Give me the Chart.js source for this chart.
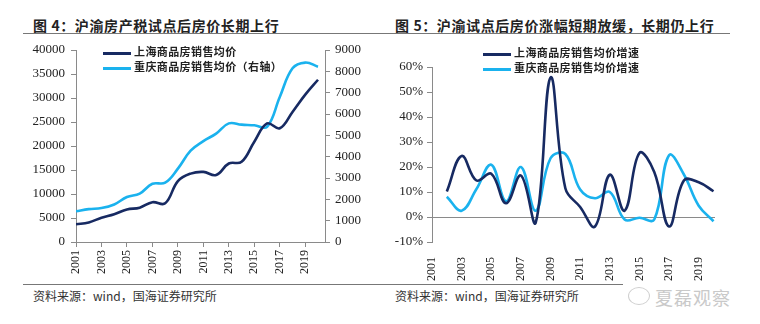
<!DOCTYPE html>
<html>
<head>
<meta charset="utf-8">
<script src="https://cdn.jsdelivr.net/npm/chart.js@4.4.0/dist/chart.umd.min.js"></script>
<style>
  body { margin: 0; background: #fff; width: 760px; height: 324px; position: relative; overflow: hidden;
         font-family: "Noto Sans CJK SC", sans-serif; }
  .box { position: absolute; top: 0; width: 380px; height: 282px; }
  .title { position: absolute; top: 15px; font-size: 14px; font-weight: bold; color: #222; letter-spacing: 0.6px; white-space: nowrap; }
  .rule { position: absolute; height: 1px; background: #777; }
  .foot { position: absolute; top: 287px; font-size: 12px; color: #333; white-space: nowrap; }
  .legend { position: absolute; font-size: 11px; font-weight: bold; color: #222; letter-spacing: 0.4px; }
  .legend div { height: 15px; line-height: 15px; white-space: nowrap; }
  .legend span { display: inline-block; width: 28px; height: 3px; vertical-align: middle; margin-right: 3px; }
  .mark { position: absolute; left: 655px; top: 284px; font-size: 18px; color: #c9c9c9; letter-spacing: 1px; }
  .bubble { position: absolute; left: 628px; top: 287px; width: 20px; height: 16px; border: 1.5px solid #cfcfcf; border-radius: 50%; }
</style>
</head>
<body>

<div class="title" style="left:33px">图 4：沪渝房产税试点后房价长期上行</div>
<div class="rule" style="left:23px; width:357px; top:33px"></div>
<div class="title" style="left:395px">图 5：沪渝试点后房价涨幅短期放缓，长期仍上行</div>
<div class="rule" style="left:380px; width:350px; top:33px"></div>

<div class="box" style="left:0"><canvas id="priceChart"></canvas></div>
<div class="box" style="left:380px"><canvas id="growthChart"></canvas></div>

<div class="legend" id="legend1" style="left:103px; top:44px"></div>
<div class="legend" id="legend2" style="left:483px; top:45px"></div>

<div class="rule" style="left:23px; width:357px; top:284px"></div>
<div class="rule" style="left:380px; width:243px; top:284px"></div>
<div class="foot" style="left:33px">资料来源：wind，国海证券研究所</div>
<div class="foot" style="left:395px">资料来源：wind，国海证券研究所</div>
<div class="bubble"></div>
<div class="mark">夏磊观察</div>

<script>
// data
const years = [2001, 2002, 2003, 2004, 2005, 2006, 2007, 2008, 2009, 2010,
               2011, 2012, 2013, 2014, 2015, 2016, 2017, 2018, 2019, 2020]
const growthYears = years.slice(1)
const xTickYears = [2001, 2003, 2005, 2007, 2009, 2011, 2013, 2015, 2017, 2019]

// 商品房销售均价 (元/平方米)
const shPrice = [3700, 4080, 5050, 5780, 6780, 7150, 8300, 8050, 12700, 14250,
                 14600, 13950, 16350, 16700, 20900, 24700, 23700, 27100, 30700, 33800]
const cqPrice = [1440, 1540, 1590, 1760, 2110, 2270, 2730, 2780, 3440, 4280,
                 4730, 5080, 5560, 5500, 5470, 5400, 6800, 8140, 8410, 8220]

// 增速 (%)
const shGrowth = [10.2, 24.4, 14.6, 17.3, 5.5, 16.6, -2.2, 55.8, 11.5, 4,
                  -3.8, 16.9, 2.5, 25.6, 18, -3.8, 14.6, 13.9, 10.3]
const cqGrowth = [8.1, 2.5, 11.2, 20.9, 6.3, 20, 2.5, 23.5, 25.2, 11,
                  7.5, 10, -1, -0.3, -1, 24.7, 17, 4.5, -1.7]

const priceNames = ['上海商品房销售均价', '重庆商品房销售均价（右轴）']
const growthNames = ['上海商品房销售均价增速', '重庆商品房销售均价增速']

const dark = '#172a62'
const light = '#1ab2ee'
const axisColor = '#8a8a8a'
const tickFont = { family: 'serif', size: 13 }

function points(xs, ys) {
  return xs.map((x, i) => ({ x: x, y: ys[i] }))
}

function legend(id, names) {
  const colors = [dark, light]
  document.getElementById(id).innerHTML = names.map((n, i) =>
    '<div><span style="background:' + colors[i] + '"></span>' + n + '</div>').join('')
}
legend('legend1', priceNames)
legend('legend2', growthNames)

function xAxis(max, withLine) {
  return {
    type: 'linear',
    min: 2001,
    max: max,
    afterBuildTicks: s => { s.ticks = xTickYears.map(v => ({ value: v })) },
    afterFit: s => { s.height = 40 },
    ticks: {
      autoSkip: false, minRotation: 90, maxRotation: 90,
      font: { family: tickFont.family, size: 12 }, color: '#222',
      padding: withLine ? 3 : 7,
      callback: v => String(v)
    },
    grid: withLine
      ? { drawOnChartArea: false, tickLength: 5, color: axisColor }
      : { display: false },
    border: { display: withLine, color: axisColor }
  }
}

Chart.defaults.animation = false

new Chart(document.getElementById('priceChart'), {
  type: 'line',
  data: {
    datasets: [
      { label: priceNames[0], data: points(years, shPrice), borderColor: dark, yAxisID: 'y' },
      { label: priceNames[1], data: points(years, cqPrice), borderColor: light, yAxisID: 'y1' }
    ]
  },
  options: {
    responsive: true,
    maintainAspectRatio: false,
    layout: { padding: { top: 50 } },
    elements: {
      line: { borderWidth: 2.6, tension: 0.4 },
      point: { radius: 0 }
    },
    plugins: { legend: { display: false }, tooltip: { enabled: false } },
    scales: {
      x: xAxis(2020.55, true),
      y: {
        position: 'left', min: 0, max: 40000,
        afterFit: s => { s.width = 76 },
        ticks: { stepSize: 5000, font: tickFont, color: '#222', padding: 6, callback: v => String(v) },
        grid: { drawOnChartArea: false, tickLength: 5, color: axisColor },
        border: { color: axisColor }
      },
      y1: {
        position: 'right', min: 0, max: 9000,
        afterFit: s => { s.width = 55 },
        ticks: { stepSize: 1000, font: tickFont, color: '#222', padding: 5, callback: v => String(v) },
        grid: { drawOnChartArea: false, tickLength: 5, color: axisColor },
        border: { color: axisColor }
      }
    }
  }
})

new Chart(document.getElementById('growthChart'), {
  type: 'line',
  data: {
    datasets: [
      { label: growthNames[0], data: points(growthYears, shGrowth), borderColor: dark },
      { label: growthNames[1], data: points(growthYears, cqGrowth), borderColor: light }
    ]
  },
  options: {
    responsive: true,
    maintainAspectRatio: false,
    layout: { padding: { top: 67, right: 45 } },
    elements: {
      line: { borderWidth: 2.6, tension: 0.4 },
      point: { radius: 0 }
    },
    plugins: { legend: { display: false }, tooltip: { enabled: false } },
    scales: {
      x: xAxis(2020.1, false),
      y: {
        min: -10, max: 60,
        afterFit: s => { s.width = 52 },
        ticks: { stepSize: 10, font: tickFont, color: '#222', padding: 4, callback: v => v + '%' },
        grid: {
          tickLength: 5,
          color: c => c.tick && c.tick.value === 0 ? axisColor : 'rgba(0,0,0,0)',
          tickColor: axisColor
        },
        border: { color: axisColor }
      }
    }
  }
})
</script>
</body>
</html>
